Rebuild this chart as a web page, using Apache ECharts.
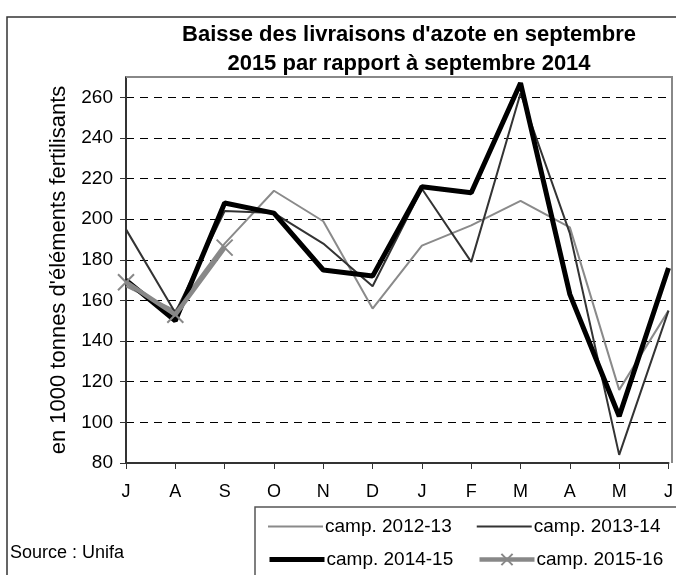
<!DOCTYPE html>
<html>
<head>
<meta charset="utf-8">
<script src="https://cdn.jsdelivr.net/npm/echarts@6/dist/echarts.min.js"></script>
<style>
    html, body {margin: 0; padding: 0; background: #fff;}
    #main {width: 676px; height: 575px;}
</style>
</head>
<body>
<div id="main"></div>
<script>
// mois (juillet -> juin)
let months = ['J', 'A', 'S', 'O', 'N', 'D', 'J', 'F', 'M', 'A', 'M', 'J'];
let camp1213 = [167, 155, 188, 214, 199, 156, 187, 197, 209, 196, 116, 155];
let camp1314 = [195, 154, 204, 203, 188, 167, 215, 179, 262, 193, 84, 155];
let camp1415 = [170, 150, 208, 203, 175, 172, 216, 213, 267, 163, 103, 176];
let camp1516 = [169, 153, 186];
let seriesNames = ['camp. 2012-13', 'camp. 2013-14', 'camp. 2014-15', 'camp. 2015-16'];

let font = '"Liberation Sans", Arial, sans-serif';
let crossSymbol = 'path://M0,0L10,10M10,0L0,10';
let hidden = 'rgba(0,0,0,0)';

let myChart = echarts.init(document.getElementById('main'));
let option = {
    backgroundColor: '#fff',
    animation: false,
    title: {
        text: "Baisse des livraisons d'azote en septembre\n2015 par rapport à septembre 2014",
        left: 404,
        top: 15,
        textAlign: 'center',
        textStyle: {fontFamily: font, fontSize: 22, fontWeight: 'bold', color: '#000', lineHeight: 29}
    },
    grid: {left: 126, right: 4, top: 77, bottom: 112},
    legend: [
        {
            data: [
                {name: seriesNames[0], lineStyle: {width: 2}},
                {name: seriesNames[1], lineStyle: {width: 2}}
            ],
            left: 262, top: 512,
            itemWidth: 55, itemHeight: 14, itemGap: 24,
            textStyle: {fontFamily: font, fontSize: 19, color: '#000', padding: [0, 0, 0, -3]}
        },
        {
            data: [
                {name: seriesNames[2], lineStyle: {width: 5}},
                {name: seriesNames[3], lineStyle: {width: 4.5}}
            ],
            left: 262, top: 545,
            itemWidth: 55, itemHeight: 14, itemGap: 24,
            textStyle: {fontFamily: font, fontSize: 19, color: '#000', padding: [0, 0, 0, -3]}
        }
    ],
    xAxis: {
        type: 'category',
        data: months,
        boundaryGap: false,
        axisLine: {lineStyle: {color: '#333', width: 2}},
        axisTick: {alignWithLabel: true, length: 6, lineStyle: {color: '#333', width: 1}},
        axisLabel: {fontFamily: font, fontSize: 18, color: '#000', margin: 20},
        splitLine: {show: false}
    },
    yAxis: {
        type: 'value',
        min: 80,
        max: 270,
        interval: 20,
        name: "en 1000 tonnes d'éléments fertilisants",
        nameLocation: 'middle',
        nameRotate: 90,
        nameGap: 54,
        nameTextStyle: {fontFamily: font, fontSize: 22, color: '#000'},
        axisLine: {show: true, lineStyle: {color: '#333', width: 2}},
        axisTick: {show: true, length: 6, lineStyle: {color: '#333', width: 1}},
        axisLabel: {fontFamily: font, fontSize: 19, color: '#000', margin: 13, showMaxLabel: false},
        splitLine: {lineStyle: {color: '#000', width: 1, type: [8, 6]}}
    },
    graphic: [
        // cadre extérieur
        {type: 'rect', shape: {x: 7, y: 17, width: 700, height: 600}, style: {fill: 'none', stroke: '#333', lineWidth: 1.5}, z: -10},
        // bord haut et droit de la zone de tracé
        {type: 'polyline', shape: {points: [[126, 77], [672, 77], [672, 463]]}, style: {stroke: '#888', lineWidth: 2, fill: 'none'}, z: 100},
        // cadre de la légende
        {type: 'rect', shape: {x: 255, y: 507, width: 450, height: 100}, style: {fill: 'none', stroke: '#555', lineWidth: 1.5}, z: 100},
        {type: 'text', left: 10, top: 544, style: {text: 'Source : Unifa', fontFamily: font, fontSize: 18, fill: '#000'}}
    ],
    series: [
        {
            name: seriesNames[0], type: 'line', data: camp1213,
            symbol: 'none', color: '#8a8a8a',
            itemStyle: {color: hidden},
            lineStyle: {color: '#8a8a8a', width: 2}, z: 2
        },
        {
            name: seriesNames[1], type: 'line', data: camp1314,
            symbol: 'none', color: '#333',
            itemStyle: {color: hidden},
            lineStyle: {color: '#333', width: 2}, z: 3
        },
        {
            name: seriesNames[2], type: 'line', data: camp1415,
            symbol: 'none', color: '#000',
            itemStyle: {color: hidden},
            lineStyle: {color: '#000', width: 5}, z: 4
        },
        {
            name: seriesNames[3], type: 'line', data: camp1516,
            symbol: crossSymbol, symbolSize: 16, showSymbol: true,
            color: '#888',
            itemStyle: {color: 'none', borderColor: '#888', borderWidth: 2},
            lineStyle: {color: '#888', width: 4.5}, z: 5
        }
    ]
};
myChart.setOption(option);
</script>
</body>
</html>
